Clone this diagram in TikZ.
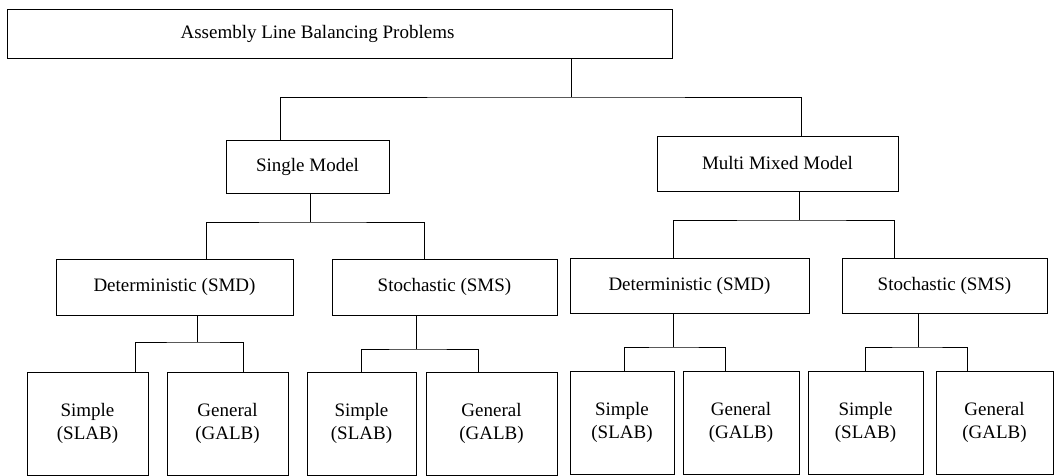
\documentclass[tikz,border=0pt]{standalone}
\usepackage{fontspec}
\setmainfont{Liberation Serif}
\usepackage{tikz}
\usetikzlibrary{positioning}

\begin{document}
\begin{tikzpicture}[
  x=1pt, y=-1pt,
  box/.style = {draw, line width=0.9pt, inner sep=0pt, align=center,
                font=\fontsize{19}{23}\selectfont},
  leaf/.style = {box, minimum height=103pt},
  link/.style = {line width=0.6pt}
]
  \useasboundingbox (0,0) rectangle (1058,476);

  % Top box
  \node[box, minimum width=665pt, minimum height=49pt] (alb) at (339.5,33.5) {\hspace*{-44pt}Assembly Line Balancing Problems};

  % Model type
  \node[box, minimum width=163pt, minimum height=53pt] (single) at (307.5,166.5) {Single Model};
  \node[box, minimum width=241pt, minimum height=55pt] (multi) at (777.5,163.5) {Multi Mixed Model};

  % Deterministic / stochastic
  \node[box, minimum width=237pt, minimum height=56pt] (sdet) at (174.5,287) {Deterministic (SMD)};
  \node[box, minimum width=225pt, minimum height=56pt] (ssto) at (444.5,287) {Stochastic (SMS)};
  \node[box, minimum width=239pt, minimum height=55pt] (mdet) at (689.5,285.5) {Deterministic (SMD)};
  \node[box, minimum width=205pt, minimum height=55pt] (msto) at (944.5,285.5) {Stochastic (SMS)};

  % Simple / general
  \node[leaf, minimum width=121pt] (simp1) at (87.5,423.5) {Simple\\(SLAB)};
  \node[leaf, minimum width=121pt] (gen1) at (227.5,423.5) {General\\(GALB)};
  \node[leaf, minimum width=109pt] (simp2) at (361.5,423.5) {Simple\\(SLAB)};
  \node[leaf, minimum width=131pt] (gen2) at (491.5,423.5) {General\\(GALB)};
  \node[leaf, minimum width=104pt] (simp3) at (622,422.5) {Simple\\(SLAB)};
  \node[leaf, minimum width=116pt] (gen3) at (741,422.5) {General\\(GALB)};
  \node[leaf, minimum width=115pt] (simp4) at (865.5,422.5) {Simple\\(SLAB)};
  \node[leaf, minimum width=117pt] (gen4) at (994.5,422.5) {General\\(GALB)};

  % Branch points
  \coordinate (jalb) at (571,97);
  \coordinate (jsingle) at (310,222);
  \coordinate (jmulti) at (799,220);
  \coordinate (jsdet) at (197,342);
  \coordinate (jssto) at (416,349);
  \coordinate (jmdet) at (673,347);
  \coordinate (jmsto) at (918,347);

  % Connectors
  \draw[link] (alb.south -| jalb) -- (jalb);
  \draw[link] ([xshift=-27pt]single.north) |- (jalb) -| ([xshift=24pt]multi.north);

  \draw[link] (single.south -| jsingle) -- (jsingle);
  \draw[link] ([xshift=32pt]sdet.north) |- (jsingle) -| ([xshift=-20pt]ssto.north);

  \draw[link] (multi.south -| jmulti) -- (jmulti);
  \draw[link] ([xshift=-16pt]mdet.north) |- (jmulti) -| ([xshift=-50pt]msto.north);

  \draw[link] (sdet.south -| jsdet) -- (jsdet);
  \draw[link] ([xshift=48pt]simp1.north) |- (jsdet) -| ([xshift=16pt]gen1.north);

  \draw[link] (ssto.south -| jssto) -- (jssto);
  \draw[link] (simp2.north) |- (jssto) -| ([xshift=-13pt]gen2.north);

  \draw[link] (mdet.south -| jmdet) -- (jmdet);
  \draw[link] ([xshift=2pt]simp3.north) |- (jmdet) -| ([xshift=-16pt]gen3.north);

  \draw[link] (msto.south -| jmsto) -- (jmsto);
  \draw[link] (simp4.north) |- (jmsto) -| ([xshift=-27pt]gen4.north);

\end{tikzpicture}
\end{document}
